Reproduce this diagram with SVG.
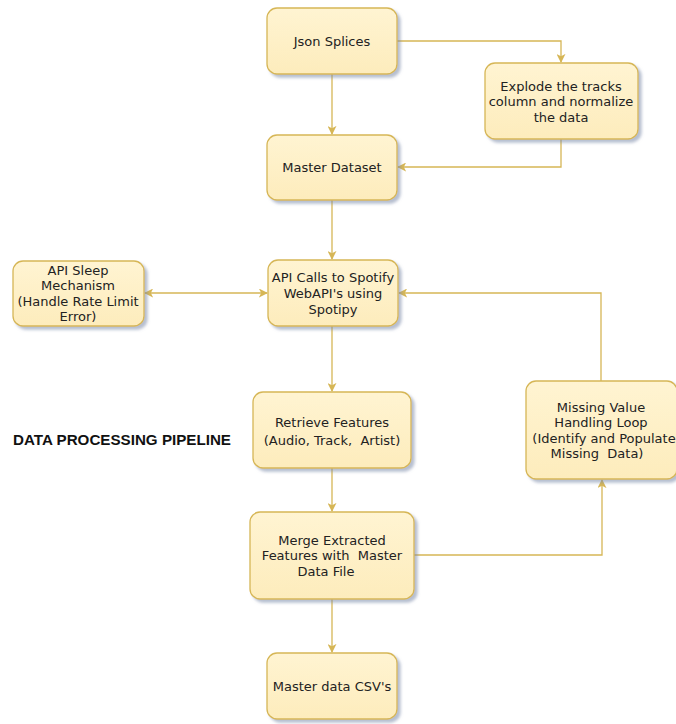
<svg xmlns="http://www.w3.org/2000/svg" width="676" height="724" viewBox="0 0 676 724">
<defs>
<linearGradient id="g" x1="0" y1="0" x2="0" y2="1">
<stop offset="0" stop-color="#fff4d2"/>
<stop offset="1" stop-color="#fdecbc"/>
</linearGradient>
<filter id="sh" x="-10%" y="-10%" width="130%" height="130%">
<feDropShadow dx="3" dy="3" stdDeviation="1.6" flood-color="#7a88a8" flood-opacity="0.55"/>
</filter>
<marker id="a" viewBox="0 0 10 10" refX="9" refY="5" markerWidth="9" markerHeight="9" markerUnits="userSpaceOnUse" orient="auto-start-reverse">
<path d="M0,0 L10,5 L0,10 L2.5,5 Z" fill="#d6b656"/>
</marker>
</defs>
<style>
.n rect{fill:url(#g);stroke:#d6b656;stroke-width:1.3;filter:url(#sh)}
.n text{font-family:"DejaVu Sans",Verdana,sans-serif;font-size:13px;fill:#222;text-anchor:middle}
.c path{fill:none;stroke:#d6b656;stroke-width:1.3}
.t{font-family:"Liberation Sans",Arial,sans-serif;font-weight:bold;font-size:14px;fill:#111}
</style>
<rect width="676" height="724" fill="#fff"/>
<g id="connectors" class="c">
<path d="M332,74 V134" marker-end="url(#a)"/>
<path d="M397,41 H561 V62" marker-end="url(#a)"/>
<path d="M561,139 V167 H398" marker-end="url(#a)"/>
<path d="M332,200 V259" marker-end="url(#a)"/>
<path d="M145,293 H267" marker-start="url(#a)" marker-end="url(#a)"/>
<path d="M332,326 V391" marker-end="url(#a)"/>
<path d="M332,468 V511" marker-end="url(#a)"/>
<path d="M414,555 H602 V480" marker-end="url(#a)"/>
<path d="M601,381 V293 H399" marker-end="url(#a)"/>
<path d="M332,599 V652" marker-end="url(#a)"/>
</g>
<g id="json" class="n"><rect x="267" y="8" width="130" height="66" rx="10"/><text x="332" y="46">Json Splices</text></g>
<g id="explode" class="n"><rect x="485" y="63" width="153" height="76" rx="10"/>
<text x="561" y="91">Explode the tracks</text><text x="561" y="106">column and normalize</text><text x="561" y="122">the data</text></g>
<g id="master" class="n"><rect x="267" y="135" width="130" height="65" rx="10"/><text x="332" y="172">Master Dataset</text></g>
<g id="sleep" class="n"><rect x="13" y="261" width="131" height="65" rx="10"/>
<text x="78" y="275">API Sleep</text><text x="78" y="290">Mechanism</text><text x="78" y="306">(Handle Rate Limit</text><text x="78" y="321">Error)</text></g>
<g id="api" class="n"><rect x="268" y="260" width="130" height="66" rx="10"/>
<text x="333" y="282">API Calls to Spotify</text><text x="333" y="298">WebAPI's using</text><text x="333" y="314">Spotipy</text></g>
<g id="retrieve" class="n"><rect x="253" y="392" width="158" height="76" rx="10"/>
<text x="332" y="427">Retrieve Features</text><text x="332" y="445" xml:space="preserve">(Audio, Track,  Artist)</text></g>
<g id="missing" class="n"><rect x="526" y="381" width="151" height="98" rx="10"/>
<text x="601" y="412">Missing Value</text><text x="601" y="427">Handling Loop</text><text x="604" y="443">(Identify and Populate</text><text x="597" y="458" xml:space="preserve">Missing  Data)</text></g>
<g id="merge" class="n"><rect x="250" y="512" width="164" height="87" rx="10"/>
<text x="332" y="545">Merge Extracted</text><text x="332" y="560" xml:space="preserve">Features with  Master</text><text x="326" y="576">Data File</text></g>
<g id="csv" class="n"><rect x="267" y="653" width="130" height="66" rx="10"/><text x="332" y="691">Master data CSV's</text></g>
<text class="t" x="13" y="445" textLength="218" lengthAdjust="spacingAndGlyphs">DATA PROCESSING PIPELINE</text>
</svg>
